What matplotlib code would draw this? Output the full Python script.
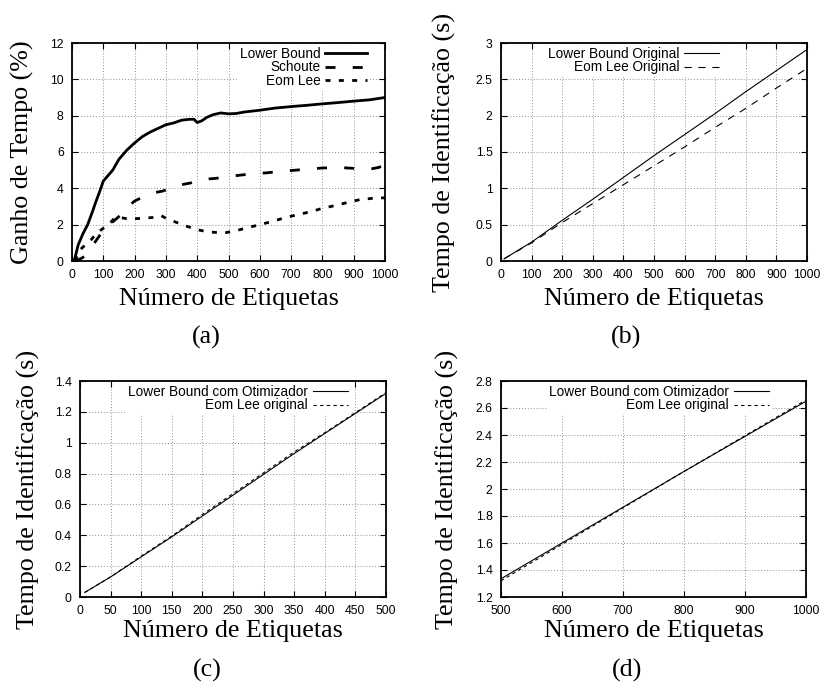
import matplotlib
matplotlib.use("Agg")
import matplotlib.pyplot as plt
from matplotlib.ticker import FuncFormatter, MultipleLocator

# (a) ganho de tempo (%)
n_lb = [5, 10, 20, 35, 50, 65, 75, 90, 100, 115, 130, 150, 175, 200, 225, 250, 275, 300, 325, 350,
        375, 390, 400, 415, 430, 450, 475, 500, 525, 550, 600, 650, 700, 750, 800, 850, 900, 950, 1000]
ganho_lb = [0, 0.2, 0.9, 1.5, 2.0, 2.7, 3.2, 3.9, 4.4, 4.7, 5.0, 5.6, 6.1, 6.5, 6.85, 7.1, 7.3, 7.5, 7.6, 7.75,
            7.8, 7.8, 7.62, 7.72, 7.9, 8.05, 8.15, 8.1, 8.12, 8.2, 8.3, 8.42, 8.5, 8.57, 8.65, 8.72, 8.8, 8.87, 9.0]

n_sch = [10, 25, 40, 60, 80, 100, 120, 140, 160, 180, 200, 230, 260, 290, 320, 350, 380, 420, 460,
         500, 550, 600, 650, 700, 750, 800, 850, 900, 950, 980, 1000]
ganho_sch = [0, 0.1, 0.25, 0.7, 1.2, 1.7, 2.0, 2.3, 2.6, 3.0, 3.3, 3.55, 3.75, 3.85, 4.05, 4.2, 4.3, 4.5, 4.55,
             4.65, 4.75, 4.82, 4.9, 4.98, 5.05, 5.12, 5.15, 5.1, 5.05, 5.15, 5.3]

n_eom = [10, 25, 40, 60, 80, 100, 120, 135, 150, 175, 200, 230, 260, 285, 300, 330, 360, 400, 430, 460,
         490, 520, 560, 600, 640, 680, 720, 760, 800, 840, 880, 920, 960, 1000]
ganho_eom = [0, 0.6, 0.85, 1.15, 1.55, 1.8, 2.05, 2.35, 2.4, 2.33, 2.33, 2.35, 2.4, 2.5, 2.35, 2.15, 1.95, 1.72,
             1.62, 1.57, 1.56, 1.65, 1.83, 2.0, 2.18, 2.38, 2.55, 2.7, 2.9, 3.05, 3.22, 3.38, 3.45, 3.48]

# (b) tempo de identificacao (s), versoes originais
n_b = [10, 100, 200, 300, 400, 500, 600, 700, 800, 900, 1000]
t_lb_orig = [0.03, 0.26, 0.56, 0.85, 1.15, 1.45, 1.74, 2.03, 2.33, 2.62, 2.91]
t_eom_orig = [0.03, 0.25, 0.53, 0.79, 1.05, 1.31, 1.57, 1.84, 2.1, 2.38, 2.65]

# (c) 0..500 etiquetas
n_c = [8, 50, 100, 150, 200, 250, 300, 350, 400, 450, 500]
t_lb_otim_c = [0.03, 0.13, 0.26, 0.39, 0.525, 0.66, 0.795, 0.93, 1.06, 1.19, 1.32]
t_eom_c = [0.03, 0.13, 0.265, 0.395, 0.535, 0.67, 0.805, 0.94, 1.065, 1.195, 1.325]

# (d) 500..1000 etiquetas
n_d = [500, 600, 700, 800, 900, 1000]
t_lb_otim_d = [1.335, 1.6, 1.865, 2.13, 2.39, 2.65]
t_eom_d = [1.32, 1.59, 1.86, 2.13, 2.395, 2.66]

W, H = 823, 683
SANS = "Liberation Sans"
SERIF = "Liberation Serif"

fig = plt.figure(figsize=(W / 100, H / 100), dpi=100)


def make_axes(l, t, r, b):
    ax = fig.add_axes([l / W, 1 - b / H, (r - l) / W, (b - t) / H])
    ax.grid(True, color="#909090", linestyle=(0, (1, 2)), linewidth=0.7)
    ax.set_axisbelow(True)
    for s in ax.spines.values():
        s.set_linewidth(1.3)
    ax.tick_params(direction="in", top=True, right=True, length=4, width=0.8, pad=6,
                   labelsize=8.8)
    ax.yaxis.set_major_formatter(FuncFormatter(lambda v, p: "%g" % round(v, 6)))
    ax.xaxis.set_major_formatter(FuncFormatter(lambda v, p: "%g" % round(v, 6)))
    return ax


def finish(ax, box, ylabel, caption, ylab_x, cap_x, cap_y, xlab_y, leg_x, leg_y, hl):
    l, t, r, b = box
    for lab in ax.get_xticklabels() + ax.get_yticklabels():
        lab.set_fontfamily(SANS)
    fig.text(ylab_x / W, 1 - (t + b) / 2 / H, ylabel, rotation=90, ha="center", va="center",
             fontsize=18.7, family=SERIF)
    fig.text((l + r) / 2 / W, 1 - xlab_y / H, "Número de Etiquetas", ha="center", va="center",
             fontsize=18.7, family=SERIF)
    fig.text(cap_x / W, 1 - cap_y / H, caption, ha="center", va="center",
             fontsize=18.7, family=SERIF)
    leg = ax.legend(loc="upper right", bbox_to_anchor=(leg_x / W, 1 - leg_y / H),
                    bbox_transform=fig.transFigure, markerfirst=False, frameon=True,
                    facecolor="white", edgecolor="none", framealpha=1, fancybox=False,
                    borderpad=0.2, borderaxespad=0, handlelength=hl, handletextpad=0.35,
                    labelspacing=-0.03, alignment="right",
                    prop={"family": SANS, "size": 9.8})
    return leg


# (a)
box_a = (72, 43, 385, 261)
ax_a = make_axes(*box_a)
ax_a.plot(n_lb, ganho_lb, color="black", lw=2.0, label="Lower Bound")
ax_a.plot(n_sch, ganho_sch, color="black", lw=2.0, linestyle=(0, (3.6, 6.2)), label="Schoute")
ax_a.plot(n_eom, ganho_eom, color="black", lw=2.0, linestyle=(0, (1.8, 3.0)), label="Eom Lee")
ax_a.set_xlim(0, 1000)
ax_a.set_ylim(0, 12)
ax_a.xaxis.set_major_locator(MultipleLocator(100))
ax_a.yaxis.set_major_locator(MultipleLocator(2))
finish(ax_a, box_a, "Ganho de Tempo (%)", "(a)", 22, 206, 337, 299, 370, 44, 3.1)

# (b)
box_b = (501, 43, 807, 261)
ax_b = make_axes(*box_b)
ax_b.plot(n_b, t_lb_orig, color="black", lw=0.8, label="Lower Bound Original")
ax_b.plot(n_b, t_eom_orig, color="black", lw=0.8, linestyle=(0, (6.5, 6)), label="Eom Lee Original")
ax_b.set_xlim(0, 1000)
ax_b.set_ylim(0, 3)
ax_b.xaxis.set_major_locator(MultipleLocator(100))
ax_b.yaxis.set_major_locator(MultipleLocator(0.5))
finish(ax_b, box_b, "Tempo de Identificação (s)", "(b)", 444, 626, 337, 299, 722, 44, 2.6)

# (c)
box_c = (80, 381, 386, 597)
ax_c = make_axes(*box_c)
ax_c.plot(n_c, t_lb_otim_c, color="black", lw=0.8, label="Lower Bound com Otimizador")
ax_c.plot(n_c, t_eom_c, color="black", lw=0.8, linestyle=(0, (3, 3)), label="Eom Lee original")
ax_c.set_xlim(0, 500)
ax_c.set_ylim(0, 1.4)
ax_c.xaxis.set_major_locator(MultipleLocator(50))
ax_c.yaxis.set_major_locator(MultipleLocator(0.2))
finish(ax_c, box_c, "Tempo de Identificação (s)", "(c)", 28, 207, 670, 631, 351, 382, 2.6)

# (d)
box_d = (501, 381, 806, 597)
ax_d = make_axes(*box_d)
ax_d.plot(n_d, t_lb_otim_d, color="black", lw=0.8, label="Lower Bound com Otimizador")
ax_d.plot(n_d, t_eom_d, color="black", lw=0.8, linestyle=(0, (3, 3)), label="Eom Lee original")
ax_d.set_xlim(500, 1000)
ax_d.set_ylim(1.2, 2.8)
ax_d.xaxis.set_major_locator(MultipleLocator(100))
ax_d.yaxis.set_major_locator(MultipleLocator(0.2))
finish(ax_d, box_d, "Tempo de Identificação (s)", "(d)", 447, 627, 670, 631, 772, 382, 2.6)

fig.savefig("out.png", dpi=100, facecolor="white")
